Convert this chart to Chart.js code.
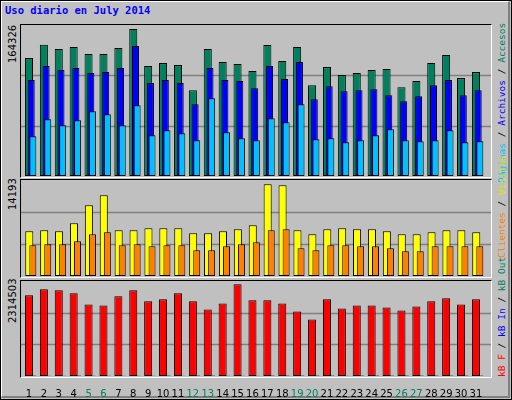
<!DOCTYPE html>
<html><head><meta charset="utf-8">
<script src="https://cdn.jsdelivr.net/npm/chart.js@4/dist/chart.umd.min.js"></script>
<style>
html,body{margin:0;padding:0;}
body{width:512px;height:400px;background:#c0c0c0;position:relative;overflow:hidden;}
#outer{position:absolute;left:0;top:0;width:510px;height:398px;border:1px solid #000;}
#inner{position:absolute;left:1px;top:1px;width:506px;height:394px;border-right:2px solid #808080;border-bottom:2px solid #808080;border-left:1px solid #fff;border-top:1px solid #fff;}
.frame{position:absolute;border-top:1px solid #000;border-left:1px solid #000;border-right:1px solid #fff;border-bottom:1px solid #fff;}
canvas{position:absolute;}
.rot{position:absolute;transform:rotate(-90deg);transform-origin:left top;white-space:pre;font:9.5px "DejaVu Sans Mono";line-height:11px;}
.ymax{position:absolute;transform:rotate(-90deg);transform-origin:left top;white-space:pre;font:10px "DejaVu Sans";line-height:12px;color:#000;}
#title{position:absolute;left:5px;top:4px;font:bold 10.5px "DejaVu Sans Mono";color:#0000ff;}
</style></head>
<body>
<div id="outer"></div><div id="inner"></div>
<div id="title">Uso diario en July 2014</div>
<div class="frame" style="left:20px;top:24px;width:470px;height:152px;"></div>
<div class="frame" style="left:20px;top:179px;width:470px;height:97px;"></div>
<div class="frame" style="left:20px;top:280px;width:470px;height:96px;"></div>
<canvas id="c1" style="left:21px;top:25px;width:470px;height:151px;"></canvas>
<canvas id="c2" style="left:21px;top:180px;width:470px;height:96px;"></canvas>
<canvas id="c3" style="left:21px;top:281px;width:470px;height:117px;"></canvas>
<div class="ymax" style="left:7px;top:63px;">164326</div>
<div class="ymax" style="left:7px;top:210px;">14193</div>
<div class="ymax" style="left:7px;top:323px;">2314503</div>
<div class="rot" style="left:496px;top:183px;"><span style="color:#00c0ff">Páginas</span> / <span style="color:#0000ff">Archivos</span> / <span style="color:#00805c">Accesos</span></div>
<div class="rot" style="left:496px;top:258px;"><span style="color:#ff8000">Clientes</span> / <span style="color:#e0e000">Visitas</span></div>
<div class="rot" style="left:496px;top:377px;"><span style="color:#ff0000">kB F</span> / <span style="color:#0000ff">kB In</span> / <span style="color:#00805c">kB Out</span></div>
<script>
const days = Array.from({length:31},(_,i)=>i+1);
const weekendDays = [5,6,12,13,19,20,26,27];
const hits = [131835,146774,141919,144160,136317,136317,143039,164326,122872,126233,123992,95982,141919,127354,125112,117270,146400,128474,144160,101584,121751,112788,115029,118390,119510,99343,106066,126233,135196,109427,116149];
const files = [107186,122872,118390,120631,115029,116149,120631,145280,103825,107186,103825,80296,120631,107186,106066,98222,122872,108306,127354,85898,100463,94861,95982,97102,90380,83657,89259,101584,107186,90380,95982];
const pages = [44443,63490,56767,62369,72453,69092,56767,79176,45563,51165,47804,39961,87018,48925,42202,39961,64610,60129,80296,41082,42202,37720,39961,45563,52286,39961,38841,39961,51165,37720,38841];
const visits = [6916,7071,6916,8154,10941,12490,7071,7071,7380,7380,7380,6606,6606,6916,7225,7845,14193,14038,7071,6451,7225,7380,7225,7225,6916,6451,6451,6761,7071,7071,6761];
const sites = [4748,4903,4903,5367,6451,6761,4748,4903,4593,4748,4748,3974,3974,4593,4903,5213,7071,7225,4284,3974,4748,4748,4593,4593,4284,3819,3819,4593,4593,4593,4593];
const kbF = [2035727,2187773,2162432,2086409,1807658,1782317,2010386,2162432,1883681,1934363,2086409,1883681,1680953,1833000,2314503,1909022,1909022,1833000,1630271,1427543,1934363,1706294,1782317,1782317,1731635,1655612,1756976,1883681,1959704,1807658,1934363];
const kbIn = [14000,9000,9000,14000,9000,9000,9000,9000,9000,14000,9000,14000,14000,9000,9000,9000,14000,14000,14000,14000,14000,9000,14000,14000,14000,14000,14000,14000,14000,14000,14000];
const kbOut = [8000,5000,5000,8000,5000,5000,5000,5000,5000,8000,5000,8000,8000,5000,5000,5000,8000,8000,8000,8000,8000,5000,8000,8000,8000,8000,8000,8000,8000,8000,8000];

const XMIN=0.195, XMAX=31.74;
function pts(arr){return arr.map((v,i)=>({x:days[i],y:v}));}
function xAxis(shift,show){
  const a={type:'linear',offset:false,min:XMIN-shift,max:XMAX-shift,display:!!show,grid:{display:false,offset:false},border:{display:false}};
  if(show){
    a.afterBuildTicks=s=>{s.ticks=days.map(d=>({value:d}));};
    a.afterFit=s=>{s.height=22;};
    a.ticks={autoSkip:false,maxRotation:0,padding:4,font:{family:'DejaVu Sans',size:10},
      color:c=>weekendDays.includes(c.tick.value)?'#008060':'#000',callback:v=>String(v)};
  }
  return a;
}
function ds(data,color,axis,w,order){
  return {data:pts(data),backgroundColor:color,borderColor:'#000',borderWidth:1,borderSkipped:false,order,
    xAxisID:axis,grouped:false,categoryPercentage:1,barPercentage:w};
}
const gridPlugin={id:'g',beforeDatasetsDraw(ch){
  const y=ch.scales.y,a=ch.chartArea,c=ch.ctx;c.save();c.strokeStyle='#808080';c.lineWidth=1.5;
  const m=ch.options.scales.y.max;
  [m/3,2*m/3].forEach(v=>{const p=Math.round(y.getPixelForValue(v))+0.5;c.beginPath();c.moveTo(a.left,p);c.lineTo(a.right,p);c.stroke();});
  c.restore();}};
function make(id,datasets,axes,ymax){
  const scales=Object.assign({y:{min:0,max:ymax,display:false}},axes);
  new Chart(document.getElementById(id),{type:'bar',data:{datasets},
    options:{responsive:false,animation:false,devicePixelRatio:1,layout:{padding:0},
      plugins:{legend:{display:false},tooltip:{enabled:false}},scales},plugins:[gridPlugin]});
}
function sizeCanvas(id,w,h){const c=document.getElementById(id);c.width=w;c.height=h;}
sizeCanvas('c1',470,151);sizeCanvas('c2',470,96);sizeCanvas('c3',470,117);
make('c1',[ds(hits,'#00805c','xa',0.54,3),ds(files,'#0000ff','xb',0.47,2),ds(pages,'#00c0ff','xc',0.47,1)],
  {xa:xAxis(-0.27),xb:xAxis(-0.12),xc:xAxis(-0.01)},168800);
make('c2',[ds(visits,'#ffff00','xa',0.54,2),ds(sites,'#ff8000','xc',0.47,1)],
  {xa:xAxis(-0.25),xc:xAxis(-0.01)},14860);
make('c3',[ds(kbF,'#ff0000','xa',0.54,3),ds(kbIn,'#0000ff','xc',0.47,2),ds(kbOut,'#00805c','xc',0.47,1)],
  {xa:xAxis(-0.27,true),xc:xAxis(-0.01)},2397800);
</script>
</body></html>
